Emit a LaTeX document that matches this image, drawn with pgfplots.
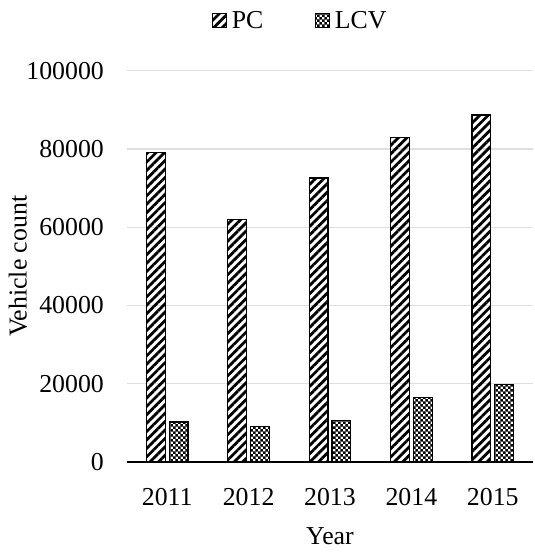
\documentclass[border=0pt]{standalone}
\usepackage{fontspec}
\setmainfont{Liberation Serif}
\usepackage{pgfplots}
\pgfplotsset{compat=1.18}
\usetikzlibrary{patterns,patterns.meta}
\tikzdeclarepattern{
  name=finechecker,
  type=uncolored,
  bottom left={(0pt,0pt)},
  top right={(5pt,5pt)},
  tile size={(5pt,5pt)},
  code={
    \fill (0pt,0pt) rectangle (2.6pt,2.6pt);
    \fill (2.5pt,2.5pt) rectangle (5pt,5pt);
  }
}
\begin{document}
\fontsize{26}{31}\selectfont
\begin{tikzpicture}
\begin{axis}[
  scale only axis, width=410pt, height=394pt,
  ybar=4pt, bar width=19pt,
  ymin=0, ymax=100000, ytick={0,20000,40000,60000,80000,100000},
  yticklabels={0,20000,40000,60000,80000,100000},
  xmin=-0.5, xmax=4.5, xtick={0,1,2,3,4}, xticklabels={2011,2012,2013,2014,2015},
  axis lines*=left,
  y axis line style={draw=none},
  x axis line style={black, line width=1.5pt, -},
  major tick length=0pt,
  ymajorgrids, grid style={gray!25, line width=1.2pt},
  scaled y ticks=false,
  yticklabel style={xshift=-14pt, font=\fontsize{26}{31}\selectfont},
  xticklabel style={yshift=-18pt, font=\fontsize{26}{31}\selectfont},
  xlabel={Year}, ylabel={Vehicle count},
  label style={font=\fontsize{26}{31}\selectfont},
  xlabel style={yshift=-4pt},
  ylabel style={yshift=-18pt},
  legend style={at={(0.427,1)}, anchor=south, yshift=34pt, draw=none, fill=none,
    legend columns=2, /tikz/every odd column/.style={column sep=3pt},
    /tikz/every even column/.style={column sep=50pt},
    font=\fontsize{26}{31}\selectfont},
  legend image code/.code={\draw[#1, line width=1pt] (0pt,-5pt) rectangle (14pt,9pt);},
]
\addplot[draw=black, line width=1.2pt, pattern={Lines[angle=45,distance=6pt,line width=2.8pt]}]
  coordinates {(0,79000) (1,62000) (2,72600) (3,83000) (4,88700)};
\addplot[draw=black, line width=1.2pt, pattern=finechecker]
  coordinates {(0,10200) (1,9100) (2,10600) (3,16400) (4,19800)};
\legend{PC,LCV}
\end{axis}
\path ([yshift=8pt]current bounding box.north) circle (0pt);
\end{tikzpicture}
\end{document}
